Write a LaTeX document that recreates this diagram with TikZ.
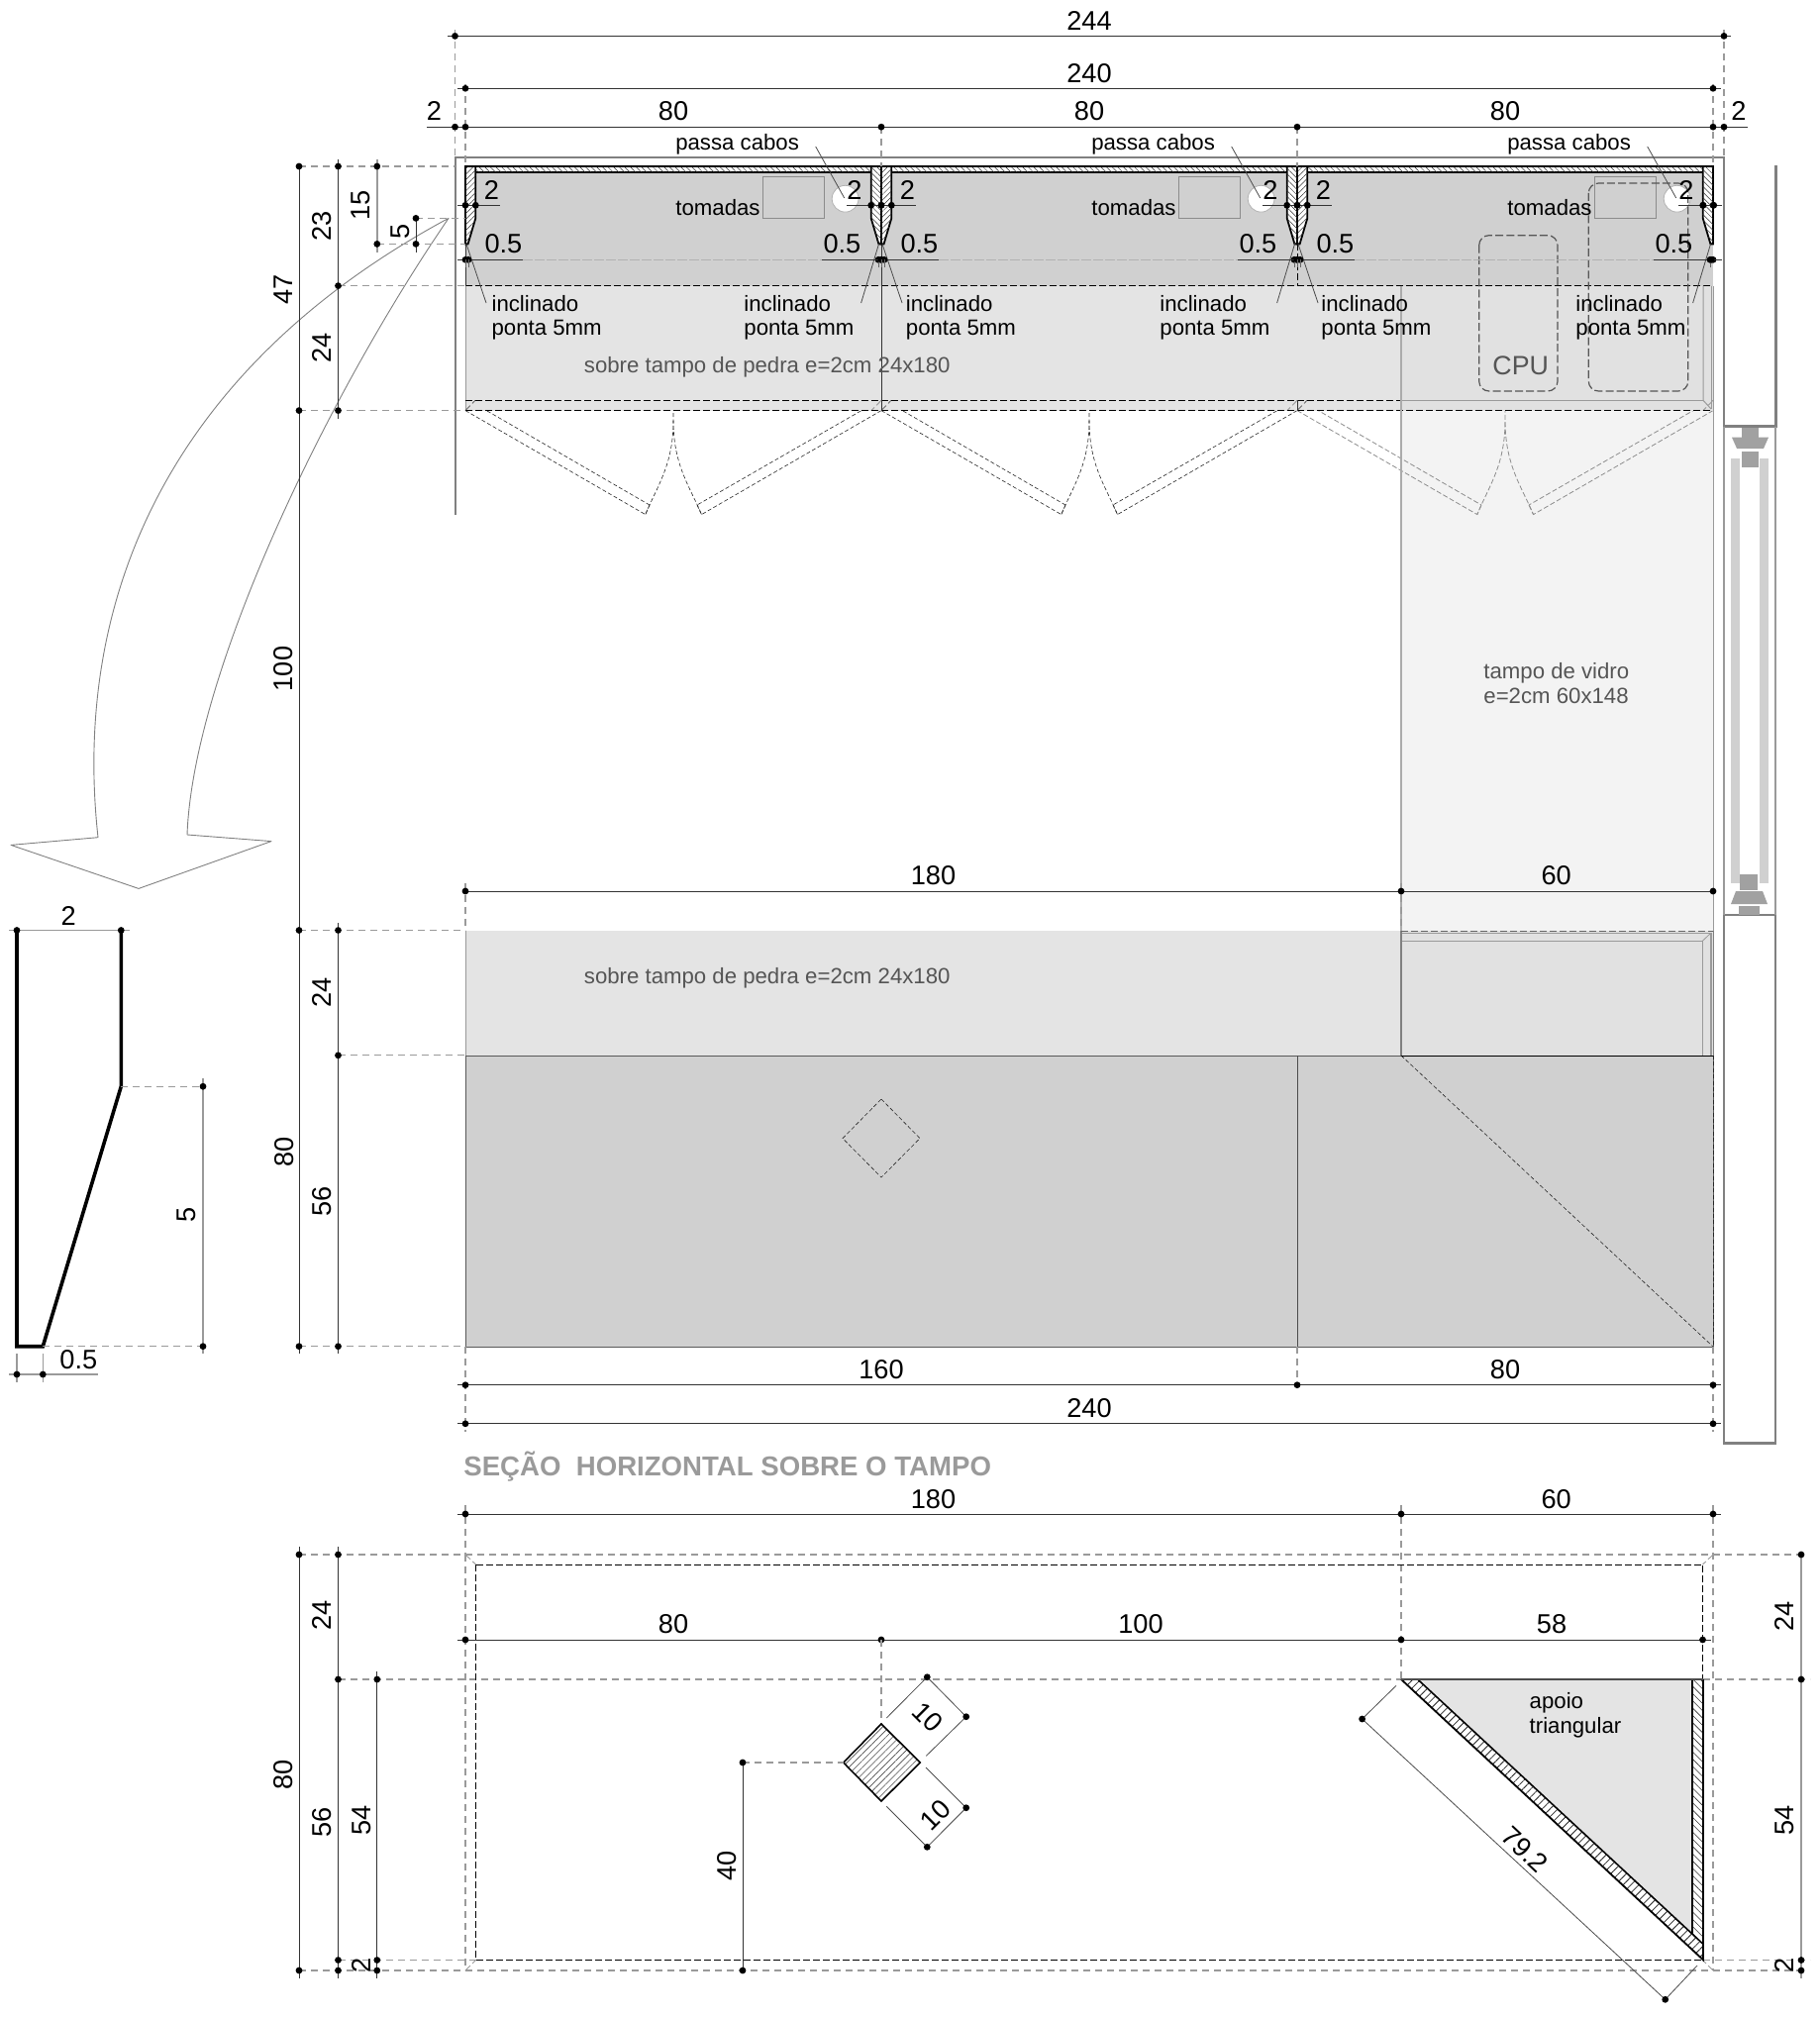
\documentclass[tikz,border=0pt]{standalone}
\usepackage{fontspec}
\setmainfont{Liberation Sans}
\usetikzlibrary{patterns.meta}
\definecolor{bandD}{HTML}{D0D0D0}
\definecolor{bandL}{HTML}{E4E4E4}
\definecolor{bandG}{HTML}{E1E1E1}
\definecolor{glassC}{HTML}{F3F3F3}
\definecolor{wallC}{HTML}{808080}
\definecolor{extC}{HTML}{9A9A9A}
\definecolor{txtG}{HTML}{555555}
\newcount\labc
\newcommand\lab[4][]{\global\advance\labc by 1 \node[txt,#1] (lab\the\labc) at (#2,#3) {#4};}
\newcommand\dimlab[4][]{\global\advance\labc by 1 \node[dimtxt,#1] (lab\the\labc) at (#2,#3) {#4};}
\newcommand\pts[1]{\foreach \a/\b in {#1} \fill[black] (\a,\b) circle (1.7pt);}
\tikzset{
 txt/.style={inner sep=0pt,font=\fontsize{11.1}{13}\selectfont,text=black},
 dimtxt/.style={inner sep=0pt,font=\fontsize{13.6}{15}\selectfont,text=black},
 dimline/.style={draw=black!80,line width=0.5pt},
 dimgrey/.style={draw=extC,line width=0.8pt},
 extd/.style={draw=extC,line width=0.6pt,dash pattern=on 3.5pt off 2.5pt},
 dashk/.style={draw=black,line width=0.45pt,dash pattern=on 3.5pt off 1.5pt},
 doork/.style={draw=black!85,line width=0.3pt,dash pattern=on 2pt off 1.2pt},
 doorg/.style={draw=black!45,line width=0.4pt,dash pattern=on 2.5pt off 1.2pt},
 wall/.style={draw=wallC,line width=1.3pt},
 prof/.style={draw=black,line width=0.9pt,line join=miter},
 hatchR/.style={pattern={Lines[angle=45,distance=2pt,line width=0.25pt]},pattern color=black!80},
 hatchL/.style={pattern={Lines[angle=-45,distance=2pt,line width=0.25pt]},pattern color=black!80},
 leader/.style={draw=black!70,line width=0.4pt},
 arrowl/.style={draw=black!50,line width=0.45pt},
}
\begin{document}
\begin{tikzpicture}[x=0.5pt,y=-0.5pt]
\useasboundingbox (0,0) rectangle (1837,2038);
% glass lower part
\fill[glassC] (1415,414.6) rectangle (1730,940);
% doors
\foreach \o/\st in {470/doork,890/doork,1310/doorg}{
  \draw[\st] (\o,414.6) -- (\o+181.8,519.6) .. controls (\o+193,492) and (\o+210,470) .. (\o+210,425) -- (\o+210,404.3);
  \draw[\st] (\o+420,414.6) -- (\o+238.5,519.6) .. controls (\o+227,492) and (\o+210,470) .. (\o+210,425);
  \draw[\st] (\o+5.4,405.4) -- (\o+186,510);
  \draw[\st] (\o+416,405.4) -- (\o+234,510);
  \draw[\st] (\o+186,510) -- (\o+181.8,519.6);
  \draw[\st] (\o+234,510) -- (\o+238.5,519.6);
}
% top bands
\fill[bandD] (470,168) rectangle (1730,288.6);
\fill[bandL] (470,288.6) rectangle (1730,414.6);
\fill[bandG] (1415,288.6) rectangle (1730,414.6);
\draw[dimgrey,line width=0.5pt] (470,288.6) -- (470,414.6);
\foreach \o in {470,890,1310}{
  \draw[dashk,draw=black!30!extC] (\o,414.6) -- (\o+10,404.3);
  \draw[dashk,draw=extC] (\o+420,404.3) -- (\o+410,414.6);
}
\draw[dashk] (470,288.6) -- (1730,288.6);
\draw[dashk] (470,404.3) -- (1415,404.3);
\draw[dashk] (470,414.6) -- (1730,414.6);
\draw[dimgrey] (1415,404.3) -- (1720,404.3);
\draw[dimgrey,line width=0.5pt] (1720,288.6) -- (1720,404.3) -- (1728,413);
\draw[dimgrey,line width=0.5pt] (1728,288.6) -- (1728,413);
\draw[draw=black!33,line width=0.65pt] (1415,288.6) -- (1415,940);
\draw[draw=extC,line width=0.5pt] (1730,288.6) -- (1730,940);
% vertical divisions
\draw[black!80,line width=0.4pt] (890,168) -- (890,414.6);
\draw[dashk] (1310,246) -- (1310,288.6);
\draw[black!80,line width=0.4pt] (1310,404.3) -- (1310,414.6);
\draw[black!80,line width=0.4pt] (470,246) -- (470,288.6);
% outlets, holes
\foreach \o in {0,420,840}{
  \draw[draw=black!45,line width=0.5pt,fill=bandD] (770+\o,178.6) rectangle (832.6+\o,220.7);
  \draw[draw=black!30,line width=0.4pt,fill=white] (853.6+\o,200.7) circle (6.7pt);
}
% boxes
\draw[draw=txtG,line width=0.6pt,dash pattern=on 4pt off 1.6pt,rounded corners=5pt] (1493.7,237.7) rectangle (1573,395);
\draw[draw=txtG,line width=0.6pt,dash pattern=on 4pt off 1.6pt,rounded corners=5pt] (1604.3,185) rectangle (1704.8,395);
% top strips
\foreach \a/\b in {480.3/879.7,900.3/1299.7,1320.3/1719.7}{
  \filldraw[prof,fill=white,line width=0.7pt] (\a,168) rectangle (\b,174);
  \fill[hatchL] (\a,168) rectangle (\b,174);
  \draw[prof] (\a,168) -- (\b,168);
}
% profiles
\foreach \o in {470,890,1310}{
  \filldraw[prof,fill=white] (\o,168) -- (\o+10.3,168) -- (\o+10.3,220.4) -- (\o+2.6,246.4) -- (\o,246.4) -- cycle;
  \path[hatchR] (\o,168) -- (\o+10.3,168) -- (\o+10.3,220.4) -- (\o+2.6,246.4) -- (\o,246.4) -- cycle;
}
\foreach \o in {890,1310,1730}{
  \filldraw[prof,fill=white] (\o,168) -- (\o-10.3,168) -- (\o-10.3,220.4) -- (\o-2.6,246.4) -- (\o,246.4) -- cycle;
  \path[hatchL] (\o,168) -- (\o-10.3,168) -- (\o-10.3,220.4) -- (\o-2.6,246.4) -- (\o,246.4) -- cycle;
}
% walls and window
\draw[wall] (460,520.4) -- (460,159) -- (1741,159) -- (1741,430.7) -- (1793.7,430.7) -- (1793.7,166.7);
\draw[wall] (1741,924) rectangle (1793,1457.5);
\draw[draw=extC,line width=0.8pt] (1741,430.7) -- (1741,924);
\draw[draw=extC,line width=0.8pt] (1793,430.7) -- (1793,924);
\fill[bandD] (1748,462.7) rectangle (1757,891.7);
\fill[bandD] (1777,462.7) rectangle (1786,891.7);
\fill[black!37] (1759,431.7) rectangle (1776,441.7);
\fill[black!37] (1749,441.7) -- (1786,441.7) -- (1781,453) -- (1754,453) -- cycle;
\fill[black!37] (1759,456) rectangle (1776,471.7);
\fill[black!37] (1757,883) rectangle (1775,899);
\fill[black!37] (1753,900) -- (1780,900) -- (1785,913) -- (1748,913) -- cycle;
\fill[black!37] (1756,915) rectangle (1777,924);
% lower stone
\fill[bandL] (470,939.5) rectangle (1415,1066);
\fill[bandG] (1415,939.5) rectangle (1730,1066);
\draw[dimgrey,line width=0.5pt] (470,939.5) -- (470,1066);
\draw[dimgrey] (1415,950.3) -- (1719.3,950.3) -- (1719.3,1066);
\draw[dimgrey] (1415,942.3) -- (1727.7,942.3) -- (1727.7,1066);
\draw[dimgrey,line width=0.4pt] (1719.3,950.3) -- (1727.7,942.3);
\draw[draw=wallC,line width=0.7pt] (1415,940) -- (1415,1066);
\draw[draw=wallC,line width=0.5pt] (1730,940) -- (1730,1066);
\draw[dashk,draw=black!60] (1415,940) -- (1730,940);
% cabinet
\filldraw[fill=bandD,draw=black!65,line width=0.5pt] (470,1066) rectangle (1730,1360);
\draw[black!70,line width=0.5pt] (1310,1066) -- (1310,1360);
\draw[doork] (890,1110) -- (929,1149.6) -- (890,1189) -- (851,1149.6) -- cycle;
\draw[doork] (1415,1066) -- (1730,1360);
\draw[doork] (1730,1066) -- (1730,1360);
\draw[black,line width=0.5pt] (1415,1066) -- (1730,1066);
% big arrow
\draw[arrowl,line join=round] (453,220.4) .. controls (175,370) and (72,600) .. (99,845.7) -- (11,853.4) -- (140,897.4) -- (274,849.6) -- (189,843) .. controls (195,680) and (330,400) .. cycle;
% detail profile
\draw[black,line width=1.8pt,line join=miter] (17,939.5) -- (17,1359.7) -- (43.3,1359.7) -- (122.3,1097.2) -- (122.3,939.5);
\draw[dimgrey] (9.3,939.5) -- (130.7,939.5);
\draw[extd] (122.3,1097.2) -- (205,1097.2);
\draw[extd] (43.3,1359.7) -- (205,1359.7);
\draw[dimgrey] (205,1088.8) -- (205,1367);
\draw[dimgrey] (9.3,1388) -- (99,1388);
\draw[dimgrey] (17,1367.4) -- (17,1395.7);
\draw[dimgrey] (43.3,1367.4) -- (43.3,1395.7);
\pts{17/939.5,122.3/939.5,205/1097.2,205/1359.7,17/1388,43.3/1388}
\dimlab{69.3}{925}{2}
\dimlab[rotate=90]{188.3}{1227.3}{5}
\dimlab{79.3}{1372.7}{0.5}
% upper horizontal dims
\draw[extd] (459.5,30) -- (459.5,159);
\draw[extd] (470,85) -- (470,168);
\foreach \x in {890,1310}{\draw[extd] (\x,128.2) -- (\x,168);}
\draw[extd] (1730,85) -- (1730,168);
\draw[extd] (1741,30) -- (1741,159);
\draw[dimline] (452,36.4) -- (1748,36.4);
\draw[dimline] (462,89.3) -- (1738,89.3);
\draw[dimline] (431,128.2) -- (1765,128.2);
\pts{459.5/36.4,1741/36.4,470/89.3,1730/89.3,459.5/128.2,470/128.2,890/128.2,1310/128.2,1730/128.2,1741/128.2}
\dimlab{1100}{21}{244}
\dimlab{1100}{74}{240}
\dimlab{438.4}{112.5}{2}
\dimlab{680}{112.5}{80}
\dimlab{1100}{112.5}{80}
\dimlab{1520}{112.5}{80}
\dimlab{1756}{112.5}{2}
% upper left dims
\draw[extd] (302,168) -- (460,168);
\draw[extd] (420,220.4) -- (470,220.4);
\draw[extd] (381,246.4) -- (470,246.4);
\draw[extd] (341.5,288.6) -- (470,288.6);
\draw[extd] (302,414.6) -- (470,414.6);
\draw[dimline] (302,168) -- (302,939.5);
\draw[dimline] (341.5,160.7) -- (341.5,422.5);
\draw[dimgrey] (380.8,160.7) -- (380.8,254.6);
\draw[dimline] (420,218) -- (420,254.6);
\pts{302/168,341.5/168,380.8/168,420/220.4,380.8/246.4,420/246.4,341.5/288.6,302/414.6,341.5/414.6}
\dimlab[rotate=90]{285.7}{292}{47}
\dimlab[rotate=90]{325}{228.6}{23}
\dimlab[rotate=90]{363.8}{207}{15}
\dimlab[rotate=90]{404}{234}{5}
\dimlab[rotate=90]{325}{351.8}{24}
\dimlab[rotate=90]{286}{675.5}{100}
% per-bay labels
\foreach \o/\ix [count=\n] in {0/496.2,420/914.5,840/1334}{
  \node[txt] (pc\n) at (744.6+\o,145.3) {passa cabos};
  \node[txt] (tm\n) at (725+\o,210) {tomadas};
  \draw[leader] (823.7+\o,148) -- (852.7+\o,200);
  \node[dimtxt] (da\n) at (496.4+\o,191.8) {2};
  \node[dimtxt] (db\n) at (508.4+\o,246.4) {0.5};
  \node[dimtxt] (dc\n) at (863+\o,191.8) {2};
  \node[dimtxt] (dd\n) at (850.4+\o,246.4) {0.5};
  \node[txt,anchor=west] (ia\n) at (\ix,307) {inclinado};
  \node[txt,anchor=west] (ib\n) at (\ix,333) {ponta 5mm};
  \node[txt,anchor=west] (ic\n) at (751+\o,307) {inclinado};
  \node[txt,anchor=west] (id\n) at (751+\o,333) {ponta 5mm};
  \draw[leader] (471+\o,246.4) -- (491+\o,306);
  \draw[leader] (887.5+\o,246.4) -- (869.6+\o,306);
  \draw[dimline] (462+\o,207.3) -- (505+\o,207.3);
  \draw[dimline] (855+\o,207.3) -- (890+\o,207.3);
  \draw[dimline] (462+\o,262.3) -- (528+\o,262.3);
  \draw[dimline] (830+\o,262.3) -- (898+\o,262.3);
  \draw[draw=black!30,line width=0.3pt,dash pattern=on 5pt off 1pt] (528+\o,262.3) -- (830+\o,262.3);
  \fill[black] (470+\o,207.3) circle (1.7pt);
  \fill[black] (480.3+\o,207.3) circle (1.7pt);
  \fill[black] (879.7+\o,207.3) circle (1.7pt);
  \fill[black] (890+\o,207.3) circle (1.7pt);
  \fill[black] (470+\o,262.3) circle (1.7pt);
  \fill[black] (473+\o,262.3) circle (1.7pt);
  \fill[black] (887+\o,262.3) circle (1.7pt);
  \fill[black] (890+\o,262.3) circle (1.7pt);
  \draw[draw=black!60,line width=0.4pt] (470+\o,262) -- (470+\o,270);
  \draw[draw=black!60,line width=0.4pt] (473+\o,262) -- (473+\o,270);
  \draw[draw=black!60,line width=0.4pt] (887+\o,262) -- (887+\o,270);
}
\draw[dimline] (1720,207.3) -- (1738.6,207.3);
\draw[dimline] (1725,262.3) -- (1738.6,262.3);
\fill[black] (1720,207.3) circle (1.7pt);
\fill[black] (1730.7,207.3) circle (1.7pt);
\fill[black] (1728,262.3) circle (1.7pt);
\lab[text=txtG]{1535.7}{369.3}{\fontsize{13.4}{15}\selectfont CPU}
\node[txt,text=txtG,anchor=west] (sob1) at (589.5,370.5) {sobre tampo de pedra e=2cm 24x180};
\node[txt,text=txtG,anchor=west] (sob2) at (589.5,987.5) {sobre tampo de pedra e=2cm 24x180};
\node[txt,text=txtG,anchor=west] (vid1) at (1498,679.5) {tampo de vidro};
\node[txt,text=txtG,anchor=west] (vid2) at (1498,702.5) {e=2cm 60x148};
% mid dims
\draw[extd] (470,891.7) -- (470,939.5);
\draw[extd] (1415,891.7) -- (1415,939.5);
\draw[dimline] (470,900) -- (1730,900);
\pts{470/900,1415/900,1730/900}
\dimlab{942.5}{884.5}{180}
\dimlab{1571.7}{884.5}{60}
\draw[extd] (302,939.5) -- (470,939.5);
\draw[extd] (341.5,1065.8) -- (470,1065.8);
\draw[extd] (302,1359.7) -- (470,1359.7);
\draw[dimline] (302,939.5) -- (302,1367);
\draw[dimline] (341.5,932) -- (341.5,1367);
\pts{302/939.5,341.5/939.5,341.5/1065.8,302/1359.7,341.5/1359.7}
\dimlab[rotate=90]{325}{1002.6}{24}
\dimlab[rotate=90]{287}{1163.4}{80}
\dimlab[rotate=90]{325}{1213}{56}
\draw[extd] (470,1360) -- (470,1446);
\draw[extd] (1310,1360) -- (1310,1399);
\draw[extd] (1730,1360) -- (1730,1446);
\draw[dimline] (462,1398.7) -- (1738,1398.7);
\draw[dimline] (462,1437.8) -- (1738,1437.8);
\pts{470/1398.7,1310/1398.7,1730/1398.7,470/1437.8,1730/1437.8}
\dimlab{890}{1383}{160}
\dimlab{1520}{1383}{80}
\dimlab{1100}{1422.5}{240}
\node[inner sep=0pt,anchor=west,text=extC,font=\fontsize{13.8}{15}\bfseries\selectfont] (title) at (468,1481) {SEÇÃO\ \ HORIZONTAL SOBRE O TAMPO};
% lower plan
\draw[extd] (470,1520) -- (470,1570);
\draw[extd] (1415,1520) -- (1415,1696);
\draw[extd] (1730,1520) -- (1730,1990);
\draw[dimline] (462,1529) -- (1738,1529);
\pts{470/1529,1415/1529,1730/1529}
\dimlab{942.5}{1514}{180}
\dimlab{1571.7}{1514}{60}
\draw[extd] (302,1570) -- (1825,1570);
\draw[extd] (302,1990) -- (1825,1990);
\draw[extd] (470,1570) -- (470,1990);
\draw[extd] (341.5,1696) -- (1415,1696);
\draw[extd] (1720,1696) -- (1828,1696);
\draw[extd] (341.5,1979.5) -- (480.5,1979.5);
\draw[extd] (1720,1979.5) -- (1828,1979.5);
\draw[dashk,line width=0.35pt] (480.5,1580) rectangle (1719.5,1979.5);
\draw[dashk,draw=extC] (470,1570) -- (480.5,1580);
\draw[dashk,draw=extC] (1730,1570) -- (1719.5,1580);
\draw[dashk,draw=extC] (470,1990) -- (480.5,1979.5);
\draw[dashk,draw=extC] (1730,1990) -- (1719.5,1979.5);
\draw[dimline] (462,1656) -- (1728,1656);
\pts{470/1656,890/1656,1415/1656,1719.5/1656}
\dimlab{680}{1640}{80}
\dimlab{1152}{1640}{100}
\dimlab{1567}{1640}{58}
\draw[extd] (890,1656) -- (890,1741);
\draw[dimline] (302,1562) -- (302,1998);
\draw[dimline] (341.5,1562) -- (341.5,1998);
\draw[dimline] (380.8,1688) -- (380.8,1998);
\pts{302/1570,341.5/1570,341.5/1696,380.8/1696,341.5/1979.5,380.8/1979.5,302/1990,341.5/1990,380.8/1990}
\dimlab[rotate=90]{325}{1631}{24}
\dimlab[rotate=90]{286}{1792}{80}
\dimlab[rotate=90]{325}{1840}{56}
\dimlab[rotate=90]{365}{1838}{54}
\dimlab[rotate=90]{365}{1985}{2}
\draw[dimgrey] (1819,1570) -- (1819,1998);
\pts{1819/1570,1819/1696,1819/1979.5,1819/1990}
\dimlab[rotate=90]{1802}{1632}{24}
\dimlab[rotate=90]{1802}{1838}{54}
\dimlab[rotate=90]{1802}{1985}{2}
% square column
\fill[white] (890,1741) -- (929.3,1780) -- (890,1819) -- (851.7,1780) -- cycle;
\path[pattern={Lines[angle=45,distance=2.4pt,line width=0.3pt]},pattern color=black!70] (890,1741) -- (929.3,1780) -- (890,1819) -- (851.7,1780) -- cycle;
\draw[black,line width=0.8pt,line join=miter] (890,1741) -- (929.3,1780) -- (890,1819) -- (851.7,1780) -- cycle;
\draw[leader] (895.3,1735) -- (936.3,1693.7) -- (975.7,1733.7) -- (935.3,1773.3);
\draw[leader] (935,1785) -- (975.7,1825.7) -- (936.3,1865.3) -- (895.3,1824.3);
\pts{936.3/1693.7,975.7/1733.7,975.7/1825.7,936.3/1865.3}
\dimlab[rotate=-45]{937.3}{1734.3}{10}
\dimlab[rotate=45]{945}{1833.3}{10}
\draw[extd] (750,1780) -- (851.7,1780);
\draw[dimline] (750,1780) -- (750,1990);
\pts{750/1780,750/1990}
\dimlab[rotate=90]{734}{1884}{40}
% triangle
\fill[bandL] (1431.7,1696) -- (1709,1696) -- (1709,1953.3) -- cycle;
\path[pattern={Lines[angle=45,distance=2.8pt,line width=0.4pt]},pattern color=black!85] (1415,1696) -- (1431.7,1696) -- (1720,1963.3) -- (1720,1979.3) -- cycle;
\path[pattern={Lines[angle=-45,distance=2.6pt,line width=0.3pt]},pattern color=black!80] (1709,1696) -- (1720,1696) -- (1720,1963.3) -- (1709,1953.3) -- cycle;
\draw[black,line width=0.8pt] (1431.7,1696) -- (1720,1963.3);
\draw[black,line width=0.8pt] (1709,1696) -- (1709,1953.3);
\draw[black,line width=0.9pt,line join=miter] (1415,1696) -- (1720,1979.3) -- (1720,1696);
\draw[black!70,line width=0.8pt] (1415,1696) -- (1720,1696);
\draw[leader] (1410,1702.3) -- (1375.6,1736) -- (1681.7,2019.3) -- (1714,1985);
\pts{1375.6/1736,1681.7/2019.3}
\dimlab[rotate=-43]{1540}{1868}{79.2}
\node[txt,anchor=west] (ap1) at (1544.3,1720) {apoio};
\node[txt,anchor=west] (ap2) at (1544.3,1745) {triangular};
\end{tikzpicture}
\end{document}
